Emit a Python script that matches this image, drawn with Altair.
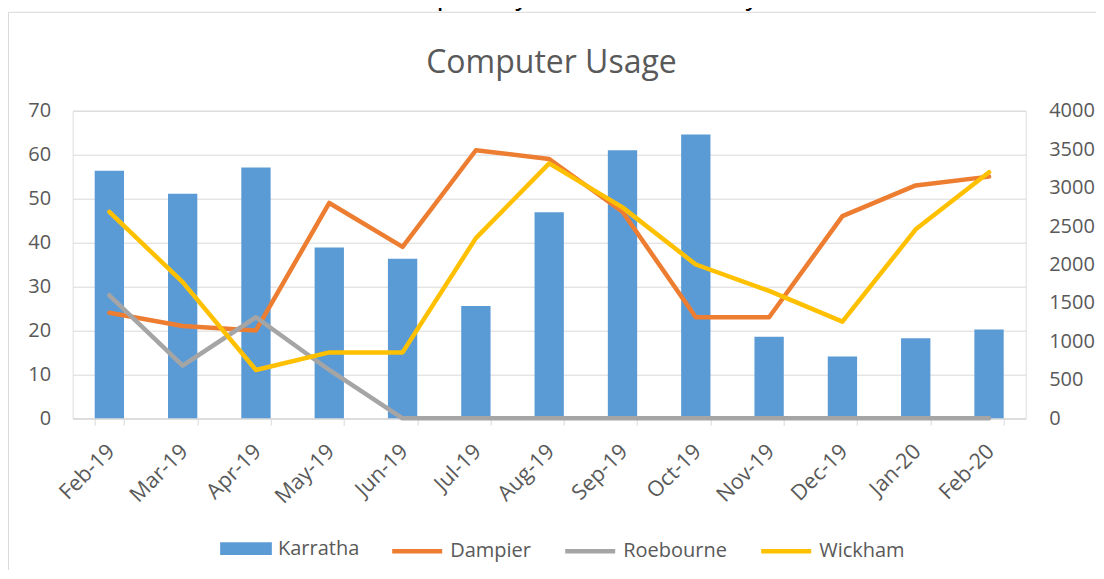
import altair as alt
import pandas as pd

# ---------------- data ----------------
months = ["Feb-19", "Mar-19", "Apr-19", "May-19", "Jun-19", "Jul-19", "Aug-19",
          "Sep-19", "Oct-19", "Nov-19", "Dec-19", "Jan-20", "Feb-20"]
karratha = [3220, 2920, 3260, 2220, 2075, 1460, 2680, 3485, 3690, 1060, 805, 1040, 1155]
dampier = [24, 21, 20, 49, 39, 61, 59, 47, 23, 23, 46, 53, 55]
roebourne = [28, 12, 23, 11, 0, 0, 0, 0, 0, 0, 0, 0, 0]
wickham = [47, 31, 11, 15, 15, 41, 58, 48, 35, 29, 22, 43, 56]

bar_series = ["Karratha"]
bar_colors = ["#5B9BD5"]
line_series = ["Dampier", "Roebourne", "Wickham"]
line_colors = ["#ED7D31", "#A5A5A5", "#FFC000"]

left_ticks = [0, 10, 20, 30, 40, 50, 60, 70]
right_ticks = [0, 500, 1000, 1500, 2000, 2500, 3000, 3500, 4000]

title_text = "Computer Usage"
note_text = "Wickham door counter was temporarily inactive due to Cyclone Damien."

# ---------------- style ----------------
FONT = "Open Sans"
TXT = "#595959"
GRID = "#D9D9D9"
W, H = 953, 307.6

bar_df = pd.DataFrame({"month": months, "series": "Karratha", "value": karratha})
line_df = pd.concat(
    [pd.DataFrame({"month": months, "series": n, "value": v})
     for n, v in zip(line_series, [dampier, roebourne, wickham])],
    ignore_index=True,
)
deco_df = pd.DataFrame({"k": [0]})

x_enc = alt.X(
    "month:N", sort=months, title=None,
    scale=alt.Scale(paddingInner=0.6, paddingOuter=0.3),
    axis=alt.Axis(
        labelAngle=-45, labelAlign="right", labelBaseline="top",
        labelFont=FONT, labelFontSize=21.5, labelColor=TXT, labelPadding=15,
        labelOffset=-6,
        tickBand="extent", tickSize=7, tickColor=GRID, tickWidth=1,
        domainColor=GRID, domainWidth=1, grid=False,
    ),
)

bars = alt.Chart(bar_df).mark_bar().encode(
    x=x_enc,
    y=alt.Y(
        "value:Q", title=None,
        scale=alt.Scale(domain=[0, 4000], nice=False),
        axis=alt.Axis(orient="right", values=right_ticks, format="d", grid=False,
                      domain=False, ticks=False, labelFont=FONT, labelFontSize=20,
                      labelColor=TXT, labelPadding=23),
    ),
    fill=alt.Fill(
        "series:N", scale=alt.Scale(domain=bar_series, range=bar_colors),
        legend=alt.Legend(
            orient="none", legendX=147.3, legendY=412, title=None,
            symbolType="M-1,-0.2456H1V0.2456H-1Z", symbolSize=2673,
            symbolStrokeWidth=0, labelFont=FONT, labelFontSize=20,
            labelColor=TXT, labelOffset=6, padding=0,
        ),
    ),
)

lines = alt.Chart(line_df).mark_line(
    strokeWidth=4.5, strokeJoin="round", strokeCap="round"
).encode(
    x=x_enc,
    y=alt.Y(
        "value:Q", title=None,
        scale=alt.Scale(domain=[0, 70], nice=False),
        axis=alt.Axis(orient="left", values=left_ticks, grid=True, gridColor=GRID,
                      gridWidth=1, domain=False, ticks=False, labelFont=FONT,
                      labelFontSize=20, labelColor=TXT, labelPadding=22),
    ),
    stroke=alt.Stroke(
        "series:N", scale=alt.Scale(domain=line_series, range=line_colors),
        legend=alt.Legend(
            orient="none", legendX=317, legendY=412.9, title=None,
            direction="horizontal", columns=3, gridAlign="each", columnPadding=24,
            symbolType="stroke", symbolSize=2500, symbolStrokeWidth=4.5,
            labelFont=FONT, labelFontSize=20, labelColor=TXT, labelOffset=5.5,
            padding=0,
        ),
    ),
    order=alt.Order("series:N"),
)

# chart frame (top and left edges), chart title and the cut-off note above it
frame_top = alt.Chart(deco_df).mark_rule(color=GRID, strokeWidth=1).encode(
    x=alt.value(-64.2), x2=alt.value(1100), y=alt.value(-98.4)
)
frame_left = alt.Chart(deco_df).mark_rule(color=GRID, strokeWidth=1).encode(
    x=alt.value(-64.2), y=alt.value(-98.4), y2=alt.value(600)
)
title = alt.Chart(deco_df).mark_text(
    text=title_text, font=FONT, fontSize=32, color=TXT,
    align="center", baseline="alphabetic"
).encode(x=alt.value(W / 2 + 2.3), y=alt.value(-37.4))
note = alt.Chart(deco_df).mark_text(
    text=note_text, font="Liberation Sans", fontSize=28, color="#000000",
    align="left", baseline="alphabetic"
).encode(x=alt.value(-27.7), y=alt.value(-105.7))

chart = alt.layer(bars, lines, frame_top, frame_left, title, note).resolve_scale(
    y="independent"
).properties(
    width=W, height=H,
    autosize=alt.AutoSizeParams(type="none"),
    padding={"left": 64.7, "top": 102.7, "right": 70, "bottom": 152},
).configure_view(stroke=None).configure(background="white")

chart.save("out.html", embed_options={"renderer": "svg", "actions": False})
